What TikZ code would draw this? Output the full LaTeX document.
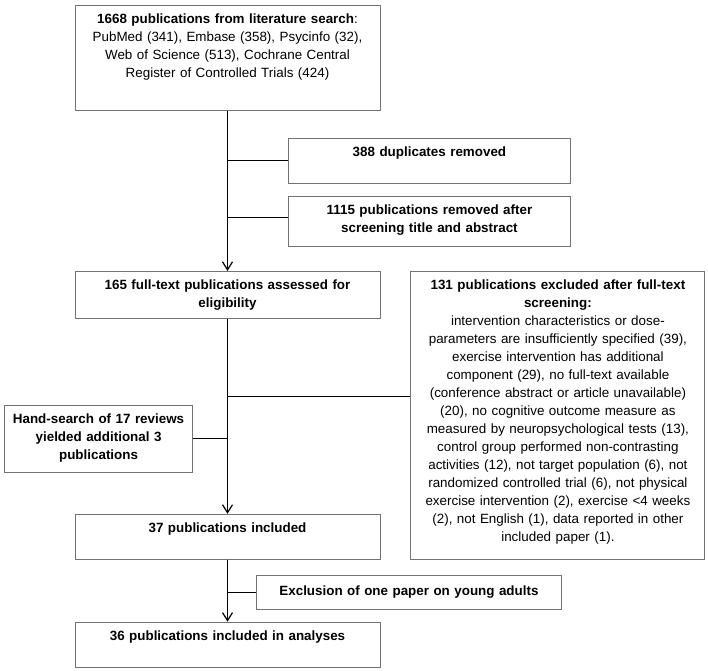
\documentclass[tikz,border=0pt]{standalone}
\usepackage{fontspec}
\setmainfont{Liberation Sans}
\usepackage{tikz}
\usetikzlibrary{arrows.meta, positioning}
\tikzstyle{box} = [rectangle, draw=black!55, line width=0.9pt, inner sep=0pt, align=center, text height=18.5pt]
\tikzstyle{arrow} = [line width=1.2pt, -{Straight Barb[length=8pt,width=10pt]}]
\tikzstyle{line} = [line width=1.2pt]

\begin{document}
\begin{tikzpicture}[x=1pt, y=1pt, font=\fontsize{13.4}{18}\selectfont]
    \useasboundingbox (0,0) rectangle (708,-670);

    \node (search) [box, text width=305pt, text depth=86.5pt, anchor=north] at (227.5,-5) {\textbf{1668 publications from literature search}:\\ PubMed (341), Embase (358), Psycinfo (32),\\ Web of Science (513), Cochrane Central\\ Register of Controlled Trials (424)};
    \node (dupl) [box, text width=282pt, text depth=26.5pt, below right=27pt and 60.5pt of search.south] {\textbf{388 duplicates removed}};
    \node (screen) [box, text width=282pt, text depth=31.5pt, below=12pt of dupl] {\textbf{1115 publications removed after}\\ \textbf{screening title and abstract}};

    \node (fulltext) [box, text width=305pt, text depth=28.5pt, below=160pt of search] {\textbf{165 full-text publications assessed for}\\ \textbf{eligibility}};
    \node (excluded) [box, text width=294pt, text depth=269.5pt, right=30pt of fulltext.north east, anchor=north west] {\textbf{131 publications excluded after full-text}\\ \textbf{screening:}\\ intervention characteristics or dose-\\ parameters are insufficiently specified (39),\\ exercise intervention has additional\\ component (29), no full-text available\\ (conference abstract or article unavailable)\\ (20), no cognitive outcome measure as\\ measured by neuropsychological tests (13),\\ control group performed non-contrasting\\ activities (12), not target population (6), not\\ randomized controlled trial (6), not physical\\ exercise intervention (2), exercise <4 weeks\\ (2), not English (1), data reported in other\\ included paper (1).};
    \node (handsearch) [box, text width=188pt, text depth=48.5pt, below left=86pt and 34.5pt of fulltext.south] {\textbf{Hand-search of 17 reviews}\\ \textbf{yielded additional 3}\\ \textbf{publications}};

    \node (included) [box, text width=305pt, text depth=26.5pt, below=195pt of fulltext] {\textbf{37 publications included}};
    \node (youngadults) [box, text width=305pt, text height=20pt, text depth=14pt, below right=15pt and 28.5pt of included.south] {\textbf{Exclusion of one paper on young adults}};
    \node (analysed) [box, text width=305pt, text depth=26.5pt, below=62pt of included] {\textbf{36 publications included in analyses}};

    \coordinate (screenjoin) at ([yshift=4pt]screen.west);
    \coordinate (excljoin) at ([yshift=19pt]excluded.west);

    \draw [arrow] (search) -- (fulltext);
    \draw [arrow] (fulltext) -- (included);
    \draw [arrow] (included) -- (analysed);
    \draw [line] (search.south |- dupl.west) -- (dupl.west);
    \draw [line] (search.south |- screenjoin) -- (screenjoin);
    \draw [line] (fulltext.south |- excljoin) -- (excljoin);
    \draw [line] (handsearch.east) -- (fulltext.south |- handsearch.east);
    \draw [line] (included.south |- youngadults.west) -- (youngadults.west);
\end{tikzpicture}
\end{document}
